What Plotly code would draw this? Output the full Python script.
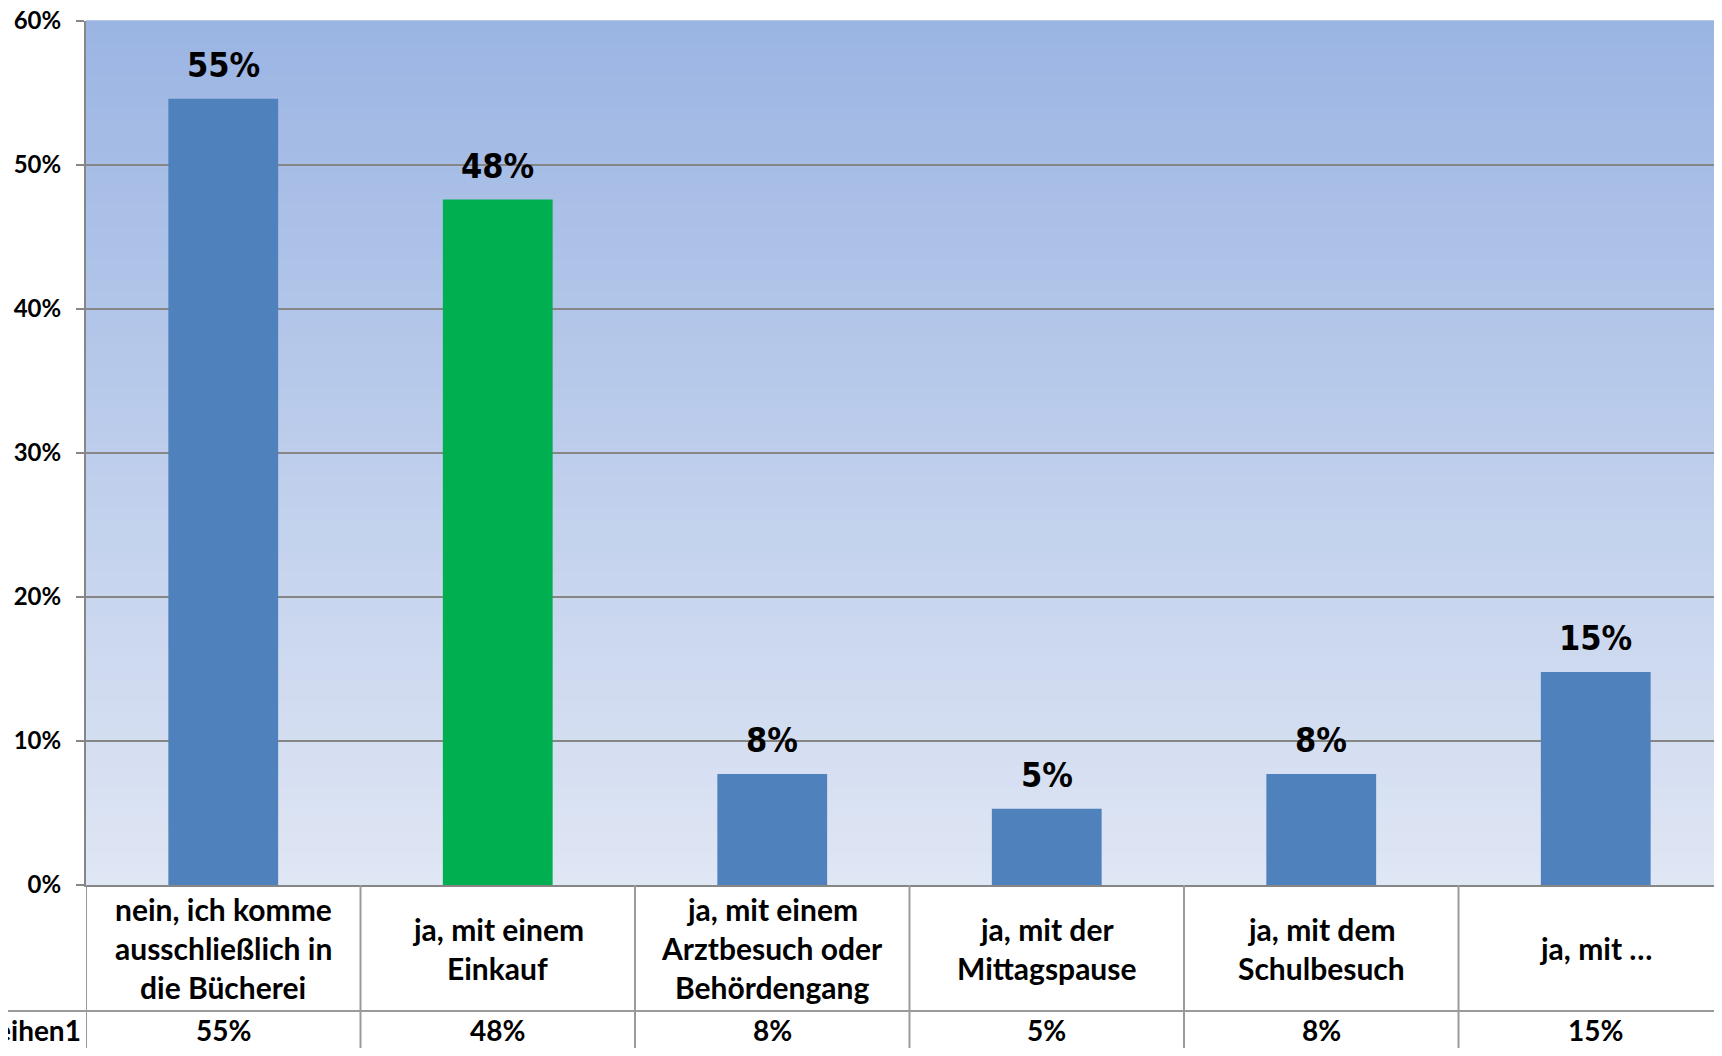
import plotly.graph_objects as go

# ---- data ----
categories = [
    "nein, ich komme ausschließlich in die Bücherei",
    "ja, mit einem Einkauf",
    "ja, mit einem Arztbesuch oder Behördengang",
    "ja, mit der Mittagspause",
    "ja, mit dem Schulbesuch",
    "ja, mit …",
]
category_lines = [
    ["nein, ich komme", "ausschließlich in", "die Bücherei"],
    ["ja, mit einem", "Einkauf"],
    ["ja, mit einem", "Arztbesuch oder", "Behördengang"],
    ["ja, mit der", "Mittagspause"],
    ["ja, mit dem", "Schulbesuch"],
    ["ja, mit …"],
]
values = [0.546, 0.476, 0.077, 0.053, 0.077, 0.148]
series_name = "Reihen1"
bar_colors = ["#4F81BD", "#00B050", "#4F81BD", "#4F81BD", "#4F81BD", "#4F81BD"]
y_ticks = [0, 0.1, 0.2, 0.3, 0.4, 0.5, 0.6]

# page has an 8px body margin; keep the figure inside the window
W, H = 1706, 1040
ML, MT, MB = 78, 13, 163
plot_w = W - ML
plot_h = H - MT - MB
base = H - MB  # y pixel of the 0% line inside the figure
cat_px = 274.5
x_max = -0.5 + plot_w / cat_px

LABEL_FONT = "Lato, 'Open Sans', sans-serif"
DATA_FONT = "'DejaVu Sans Condensed', 'Liberation Sans Narrow', sans-serif"
GRID = "#868686"
TABLE_LINE = "#9a9a9a"

xs = list(range(len(categories)))

fig = go.Figure()
fig.add_trace(go.Bar(
    x=xs, y=values, width=0.4,
    marker=dict(color=bar_colors, line=dict(width=0)),
    name=series_name, showlegend=False, hoverinfo="skip",
))

shapes = []
# vertical gradient background of the plot area
top_c = (155, 181, 227)
bot_c = (223, 230, 244)
n = 80
for i in range(n):
    t = i / (n - 1)
    c = tuple(round(bot_c[k] + (top_c[k] - bot_c[k]) * t) for k in range(3))
    shapes.append(dict(type="rect", xref="paper", yref="paper",
                       x0=0, x1=1.01, y0=i / n, y1=(i + 1) / n + 0.001,
                       fillcolor="rgb(%d,%d,%d)" % c, line=dict(width=0),
                       layer="below"))

# data table below the chart
row1_bottom = -(1003 - base) / plot_h
page_bottom = -(MB + 10) / plot_h
for k in range(len(categories) + 1):
    shapes.append(dict(type="line", xref="x", yref="paper",
                       x0=-0.5 + k, x1=-0.5 + k, y0=0, y1=page_bottom,
                       line=dict(color=TABLE_LINE, width=2)))
shapes.append(dict(type="line", xref="paper", yref="paper",
                   x0=-ML / plot_w - 0.01, x1=1.01, y0=row1_bottom, y1=row1_bottom,
                   line=dict(color=TABLE_LINE, width=2)))

annotations = []
# data labels above bars
for i, v in enumerate(values):
    annotations.append(dict(
        x=i, y=v, xref="x", yref="y", text=f"{v:.0%}", showarrow=False,
        yanchor="middle", yshift=34,
        font=dict(family=DATA_FONT, size=34, color="black", weight="bold"),
    ))

# category labels in the table
row1_center = -(940 - base) / plot_h
line_gap = 39
for i, lines in enumerate(category_lines):
    nl = len(lines)
    for j, ln in enumerate(lines):
        annotations.append(dict(
            x=i, y=row1_center, xref="x", yref="paper", text=ln,
            showarrow=False, yanchor="middle",
            yshift=((nl - 1) / 2 - j) * line_gap,
            font=dict(family=LABEL_FONT, size=30, color="black", weight="bold"),
        ))

# value row
row2_center = -(1022 - base) / plot_h
for i, v in enumerate(values):
    annotations.append(dict(
        x=i, y=row2_center, xref="x", yref="paper", text=f"{v:.0%}",
        showarrow=False, yanchor="middle",
        font=dict(family=LABEL_FONT, size=28, color="black", weight="bold"),
    ))
annotations.append(dict(
    x=-3 / plot_w, y=row2_center, xref="paper", yref="paper", text=series_name,
    showarrow=False, xanchor="right", yanchor="middle",
    font=dict(family=LABEL_FONT, size=28, color="black", weight="bold"),
))

fig.update_layout(
    width=W, height=H,
    margin=dict(l=ML, r=0, t=MT, b=MB, autoexpand=False),
    paper_bgcolor="white", plot_bgcolor="rgba(0,0,0,0)",
    shapes=shapes, annotations=annotations,
    bargap=0.6,
    xaxis=dict(range=[-0.5, x_max], showticklabels=False, showgrid=False,
               zeroline=False, showline=True, linecolor=GRID, linewidth=2,
               ticks=""),
    yaxis=dict(range=[0, 0.6], tickvals=y_ticks, tickformat=".0%",
               showgrid=True, gridcolor=GRID, gridwidth=2, zeroline=False,
               showline=True, linecolor=GRID, linewidth=2,
               ticks="outside", ticklen=8, tickcolor=GRID, tickwidth=2,
               ticklabelstandoff=10, ticklabeloverflow="allow",
               tickfont=dict(family=LABEL_FONT, size=24, color="black", weight="bold")),
)

fig.write_html("out.html")
